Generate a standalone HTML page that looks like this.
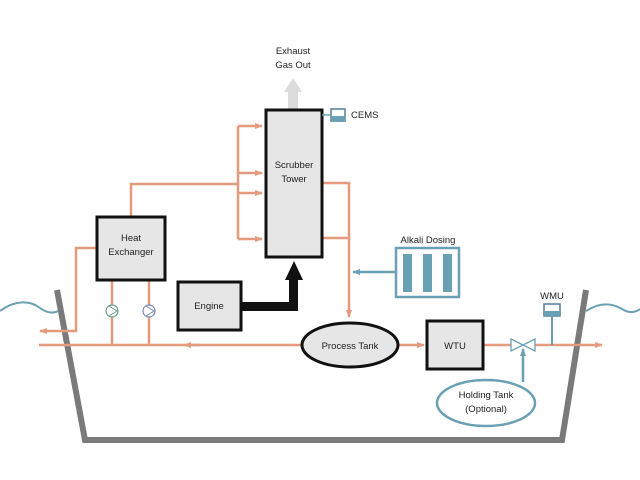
<!DOCTYPE html>
<html><head><style>
html,body{margin:0;padding:0;background:#fff;}
svg{display:block;}
text{font-family:"Liberation Sans",sans-serif;font-size:9.5px;fill:#222;}
</style></head><body>
<svg width="640" height="480" viewBox="0 0 640 480">
<defs>
<marker id="ao" markerWidth="8" markerHeight="8" refX="7" refY="4" orient="auto" markerUnits="userSpaceOnUse"><path d="M0,1 L8,4 L0,7 Z" fill="#e49a7c"/></marker>
<marker id="ab" markerWidth="8" markerHeight="8" refX="7" refY="4" orient="auto" markerUnits="userSpaceOnUse"><path d="M0,1 L8,4 L0,7 Z" fill="#6aa0b4"/></marker>
</defs>
<!-- water -->
<path d="M0,311 C15,300 30,300 40,308 C48,314 55,313 58,311" fill="none" stroke="#6aa0b4" stroke-width="2"/>
<path d="M586,311 C600,302 612,303 622,309 C630,314 636,312 640,309" fill="none" stroke="#6aa0b4" stroke-width="2"/>
<!-- hull -->
<path d="M57,290 L85,440 L562,440 L586,290" fill="none" stroke="#7a7a7a" stroke-width="6"/>
<g stroke="#e49a7c" stroke-width="2.5" fill="none">
<!-- HX top to tower -->
<path d="M131,217 V184 H238"/>
<path d="M238,126 V239"/>
<path d="M238,126 H262" marker-end="url(#ao)"/>
<path d="M238,173 H262" marker-end="url(#ao)"/>
<path d="M238,193 H262" marker-end="url(#ao)"/>
<path d="M238,239 H262" marker-end="url(#ao)"/>
<!-- HX left out -->
<path d="M97,248 H76 V331 H40" marker-end="url(#ao)"/>
<!-- pumps -->
<path d="M112,280 V345"/>
<path d="M149,280 V345"/>
<!-- bottom line -->
<path d="M302,345 H39"/>
<path d="M200,345 H184" marker-end="url(#ao)"/>
<!-- tower right -->
<path d="M322,183 H349 V317" marker-end="url(#ao)"/>
<path d="M322,238 H349"/>
<path d="M398,345 H424" marker-end="url(#ao)"/>
<path d="M483,345 H511"/>
<path d="M535,345 H602" marker-end="url(#ao)"/>
</g>
<!-- pumps circles -->
<circle cx="112" cy="311" r="6" fill="#fff" stroke="#6aa08a" stroke-width="1.2"/>
<path d="M109,306 L117,311 L109,316" fill="none" stroke="#6aa08a" stroke-width="1"/>
<circle cx="149" cy="311" r="6" fill="#fff" stroke="#7a8ab4" stroke-width="1.2"/>
<path d="M146,306 L154,311 L146,316" fill="none" stroke="#7a8ab4" stroke-width="1"/>
<!-- exhaust -->
<path d="M288,109 V92 H284 L293,78 L302,92 H298 V109 Z" fill="#dcdcdc"/>
<text x="293" y="54" text-anchor="middle">Exhaust</text>
<text x="293" y="68" text-anchor="middle">Gas Out</text>
<!-- tower -->
<rect x="266" y="110" width="56" height="147" fill="#e6e6e6" stroke="#111" stroke-width="3"/>
<text x="294" y="168" text-anchor="middle">Scrubber</text>
<text x="294" y="182" text-anchor="middle">Tower</text>
<!-- CEMS -->
<line x1="322" y1="115" x2="330" y2="115" stroke="#6aa0b4" stroke-width="1.5"/>
<rect x="331" y="109" width="14" height="12" fill="#fff" stroke="#4e7f94" stroke-width="1.5"/>
<rect x="331" y="116" width="14" height="5" fill="#6aa0b4"/>
<text x="351" y="118">CEMS</text>
<!-- HX -->
<rect x="97" y="217" width="68" height="63" fill="#e6e6e6" stroke="#111" stroke-width="3"/>
<text x="131" y="241" text-anchor="middle">Heat</text>
<text x="131" y="255" text-anchor="middle">Exchanger</text>
<!-- engine -->
<rect x="178" y="282" width="63" height="48" fill="#e6e6e6" stroke="#111" stroke-width="3"/>
<text x="209" y="309" text-anchor="middle">Engine</text>
<!-- black arrow -->
<path d="M241,302 H289 V280 H285 L294,261 L303,280 H298 V311 H241 Z" fill="#111"/>
<!-- alkali -->
<text x="428" y="243" text-anchor="middle">Alkali Dosing</text>
<rect x="396" y="248" width="63" height="49" fill="#fff" stroke="#6aa0b4" stroke-width="2.5"/>
<rect x="403" y="254" width="9" height="38" fill="#6aa0b4"/>
<rect x="423" y="254" width="9" height="38" fill="#6aa0b4"/>
<rect x="443" y="254" width="9" height="38" fill="#6aa0b4"/>
<line x1="396" y1="272" x2="353" y2="272" stroke="#6aa0b4" stroke-width="2.5" marker-end="url(#ab)"/>
<!-- process tank -->
<ellipse cx="350" cy="345" rx="48" ry="22" fill="#e6e6e6" stroke="#111" stroke-width="3"/>
<text x="350" y="349" text-anchor="middle">Process Tank</text>
<!-- WTU -->
<rect x="427" y="321" width="56" height="48" fill="#e6e6e6" stroke="#111" stroke-width="3"/>
<text x="455" y="349" text-anchor="middle">WTU</text>
<!-- valve -->
<path d="M511,339 L523,345 L511,351 Z M535,339 L523,345 L535,351 Z" fill="#fff" stroke="#6aa0b4" stroke-width="1.3"/>
<!-- holding tank -->
<ellipse cx="486" cy="403" rx="49" ry="23" fill="#fff" stroke="#6aa0b4" stroke-width="2.5"/>
<text x="486" y="398" text-anchor="middle">Holding Tank</text>
<text x="486" y="412" text-anchor="middle">(Optional)</text>
<line x1="523" y1="382" x2="523" y2="349" stroke="#6aa0b4" stroke-width="2.5" marker-end="url(#ab)"/>
<!-- WMU -->
<text x="552" y="299" text-anchor="middle">WMU</text>
<rect x="544" y="304" width="16" height="12" fill="#fff" stroke="#4e7f94" stroke-width="1.5"/>
<rect x="544" y="311" width="16" height="5" fill="#6aa0b4"/>
<line x1="552" y1="316" x2="552" y2="345" stroke="#6aa0b4" stroke-width="2"/>
</svg>
</body></html>
